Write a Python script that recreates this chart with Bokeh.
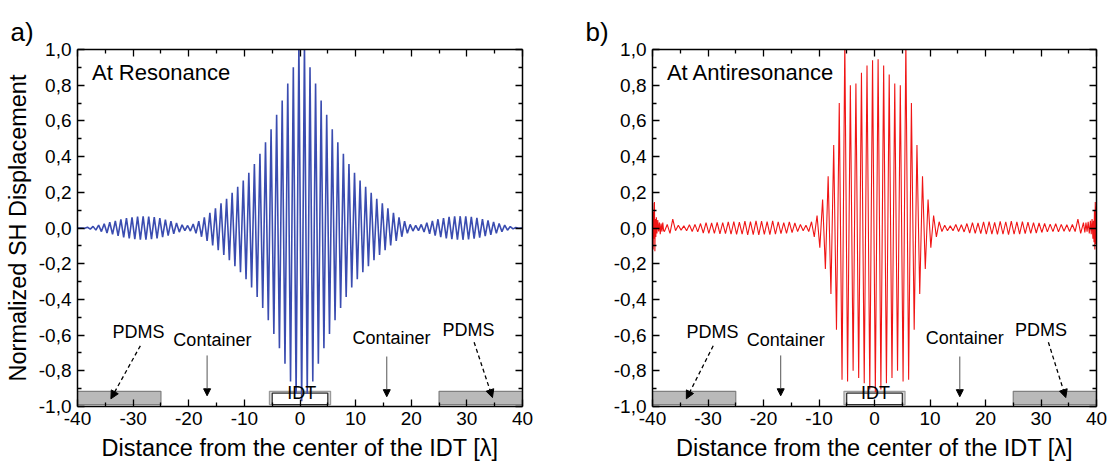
import numpy as np
from bokeh.plotting import figure
from bokeh.layouts import row
from bokeh.models import (ColumnDataSource, FixedTicker, LinearAxis, Range1d,
                          Arrow, NormalHead, Label)
from bokeh.core.properties import value
from bokeh.embed import file_html
from bokeh.resources import INLINE

# ---------------- tick definitions ----------------
x_ticks = [-40, -30, -20, -10, 0, 10, 20, 30, 40]
x_tick_labels = ["-40", "-30", "-20", "-10", "0", "10", "20", "30", "40"]
x_minor = [-35, -25, -15, -5, 5, 15, 25, 35]
y_ticks = [-1.0, -0.8, -0.6, -0.4, -0.2, 0.0, 0.2, 0.4, 0.6, 0.8, 1.0]
y_tick_labels = ["-1,0", "-0,8", "-0,6", "-0,4", "-0,2", "0,0",
                 "0,2", "0,4", "0,6", "0,8", "1,0"]
y_minor = [-0.9, -0.7, -0.5, -0.3, -0.1, 0.1, 0.3, 0.5, 0.7, 0.9]

# ---------------- panel a: at resonance ----------------
# positive crests at x = -39.2 ... 39.8 (one per wavelength)
res_peak_x = np.arange(-39, 41) - 0.2
res_peak = [0.0, 0.004, 0.009, 0.016, 0.024, 0.032, 0.040, 0.048, 0.055, 0.060,
            0.064, 0.065, 0.064, 0.061, 0.055, 0.047, 0.038, 0.028, 0.018, 0.014,
            0.022, 0.038, 0.060, 0.085, 0.111, 0.139, 0.163, 0.197, 0.231, 0.266,
            0.309, 0.358, 0.416, 0.48, 0.553, 0.634, 0.714, 0.81, 0.90, 1.03,
            1.03, 0.90, 0.81, 0.714, 0.634, 0.553, 0.48, 0.416, 0.358, 0.309,
            0.266, 0.231, 0.197, 0.163, 0.139, 0.111, 0.085, 0.060, 0.038, 0.020,
            0.015, 0.02, 0.03, 0.04, 0.049, 0.056, 0.062, 0.065, 0.066, 0.065,
            0.062, 0.057, 0.05, 0.042, 0.034, 0.025, 0.016, 0.008, 0.003, 0.0]
# negative troughs (magnitudes) at x = -39.7 ... 39.3
res_trough_x = np.arange(-40, 40) + 0.3
res_trough = [0.0, 0.002, 0.006, 0.012, 0.020, 0.028, 0.036, 0.044, 0.052, 0.058,
              0.062, 0.065, 0.065, 0.063, 0.058, 0.051, 0.043, 0.033, 0.023, 0.015,
              0.017, 0.03, 0.049, 0.072, 0.098, 0.125, 0.151, 0.18, 0.214, 0.248,
              0.287, 0.333, 0.387, 0.448, 0.517, 0.594, 0.674, 0.76, 0.86, 0.93,
              0.97,
              0.93, 0.86, 0.76, 0.674, 0.594, 0.517, 0.448, 0.387, 0.333, 0.287,
              0.248, 0.214, 0.18, 0.151, 0.125, 0.098, 0.072, 0.049, 0.03, 0.017,
              0.015, 0.022, 0.032, 0.043, 0.051, 0.058, 0.063, 0.065, 0.066, 0.064,
              0.06, 0.054, 0.046, 0.038, 0.03, 0.021, 0.012, 0.005, 0.001]

# ---------------- panel b: at antiresonance ----------------
anti_peak_x = np.arange(-38, 38) + 0.65
anti_peak = [0.02, 0.05, 0.015, 0.012, 0.018, 0.02, 0.025, 0.03, 0.028, 0.032,
             0.03, 0.034, 0.036, 0.033, 0.038, 0.036, 0.04, 0.038, 0.036, 0.04,
             0.035, 0.03, 0.034, 0.028, 0.02, 0.015, 0.035, 0.07, 0.16, 0.29,
             0.465, 0.70, 1.05, 0.80, 0.81, 0.87, 0.91, 0.94,
             0.945, 0.91, 0.86, 0.81, 0.80, 1.05, 0.70, 0.465, 0.29, 0.16,
             0.07, 0.035, 0.015, 0.012, 0.02, 0.018, 0.025, 0.03, 0.028, 0.034,
             0.036, 0.032, 0.037, 0.035, 0.038, 0.034, 0.036, 0.033, 0.03, 0.028,
             0.025, 0.022, 0.024, 0.02, 0.018, 0.02, 0.05, 0.03]
anti_trough_x = np.arange(-38, 38) + 0.15
anti_trough = [0.02, 0.03, 0.015, 0.012, 0.015, 0.02, 0.022, 0.028, 0.03, 0.03,
               0.033, 0.032, 0.035, 0.036, 0.035, 0.038, 0.037, 0.038, 0.036, 0.037,
               0.035, 0.032, 0.03, 0.026, 0.02, 0.015, 0.02, 0.05, 0.11, 0.23,
               0.37, 0.57, 0.85, 0.86, 0.80, 0.84, 0.87, 0.905,
               0.92, 0.905, 0.87, 0.84, 0.80, 0.86, 0.85, 0.57, 0.37, 0.23,
               0.11, 0.05, 0.02, 0.015, 0.015, 0.02, 0.022, 0.028, 0.03, 0.032,
               0.035, 0.034, 0.036, 0.035, 0.037, 0.035, 0.034, 0.032, 0.03, 0.028,
               0.025, 0.022, 0.02, 0.022, 0.018, 0.02, 0.02, 0.03]
# noisy reflections at both ends
edge_l_x = [-40.0, -39.95, -39.88, -39.8, -39.72, -39.65, -39.57, -39.5, -39.4,
            -39.3, -39.2, -39.05, -38.9, -38.75, -38.6, -38.45, -38.3, -38.15, -38.0]
edge_l_y = [0.02, 0.14, -0.12, 0.09, -0.06, 0.145, -0.13, 0.05, -0.05,
            0.06, -0.03, 0.045, -0.02, 0.03, -0.035, 0.025, -0.02, 0.03, -0.015]
edge_r_x = [37.9, 38.1, 38.3, 38.5, 38.7, 38.9, 39.05, 39.2, 39.35, 39.45, 39.55,
            39.63, 39.7, 39.78, 39.85, 39.92, 40.0]
edge_r_y = [-0.025, 0.03, -0.02, 0.035, -0.03, 0.04, -0.035, 0.05, -0.06, 0.04,
            -0.08, 0.1, -0.12, 0.145, -0.09, 0.12, 0.02]

# ---------------- annotations ----------------
ann_text = ["PDMS", "Container", "Container", "PDMS", "IDT"]
ann_a_x = [-29.05, -15.75, 16.46, 30.3, 0.3]
ann_b_x = [-29.2, -16.0, 16.25, 30.0, 0.2]
ann_y = [-0.58, -0.625, -0.615, -0.57, -0.925]

pdms_left = [-40, 25]
pdms_right = [-25, 40]
strip_bottom = -0.99
strip_top = -0.915

arrows_a = dict(dashed=[(-28.7, -0.66, -34.0, -0.957), (31.3, -0.64, 34.6, -0.95)],
                solid=[(-16.7, -0.714, -16.7, -0.94), (15.6, -0.72, 15.6, -0.945)])
arrows_b = dict(dashed=[(-29.06, -0.66, -33.9, -0.957), (31.33, -0.64, 34.46, -0.95)],
                solid=[(-16.9, -0.714, -16.9, -0.94), (15.37, -0.72, 15.37, -0.945)])

FONT = "Liberation Sans"
X_TITLE = "Distance from the center of the IDT [\u03bb]"
Y_TITLE = "Normalized SH Displacement"


def merged(xs_list, ys_list):
    x = np.concatenate([np.asarray(v, dtype=float) for v in xs_list])
    y = np.concatenate([np.asarray(v, dtype=float) for v in ys_list])
    o = np.argsort(x, kind="stable")
    return x[o], y[o]


def style_axis(ax, labels=True):
    ax.axis_line_width = 1.5
    ax.axis_line_color = "black"
    ax.major_tick_in = 7
    ax.major_tick_out = 0
    ax.minor_tick_in = 4
    ax.minor_tick_out = 0
    ax.major_tick_line_width = 1.3
    ax.minor_tick_line_width = 1.3
    ax.major_tick_line_color = "black"
    ax.minor_tick_line_color = "black"
    if labels:
        ax.major_label_text_font = FONT
        ax.major_label_text_font_size = "19px"
        ax.major_label_text_color = "black"
    else:
        ax.major_label_text_font_size = "1px"
        ax.major_label_text_color = None
        ax.major_label_standoff = 0


def make_panel(width, left, right, xs, ys, color, lw, title, ann_x, arrows, tag,
               tag_offset, with_ylabel):
    p = figure(width=width, height=466, x_range=Range1d(-40, 40), y_range=Range1d(-1, 1),
               output_backend="svg", toolbar_location=None,
               min_border_left=left, min_border_right=right,
               min_border_top=49, min_border_bottom=60, title=tag)
    p.grid.visible = False
    p.outline_line_color = None
    p.background_fill_color = "white"
    p.border_fill_color = "white"

    p.title.text_font = FONT
    p.title.text_font_size = "26px"
    p.title.text_font_style = "normal"
    p.title.text_color = "black"
    p.title.align = "left"
    p.title.vertical_align = "middle"
    p.title.offset = tag_offset
    p.title.standoff = 4

    p.xaxis.ticker = FixedTicker(ticks=x_ticks, minor_ticks=x_minor)
    p.yaxis.ticker = FixedTicker(ticks=y_ticks, minor_ticks=y_minor)
    p.xaxis.major_label_overrides = dict(zip(x_ticks, x_tick_labels))
    p.yaxis.major_label_overrides = dict(zip(y_ticks, y_tick_labels))
    style_axis(p.xaxis[0])
    style_axis(p.yaxis[0])
    p.xaxis.major_label_standoff = 5
    p.yaxis.major_label_standoff = 6

    p.xaxis.axis_label = X_TITLE
    p.xaxis.axis_label_text_font = FONT
    p.xaxis.axis_label_text_font_size = "23.5px"
    p.xaxis.axis_label_text_font_style = "normal"
    p.xaxis.axis_label_text_color = "black"
    p.xaxis.axis_label_standoff = 7
    if with_ylabel:
        p.yaxis.axis_label = Y_TITLE
        p.yaxis.axis_label_text_font = FONT
        p.yaxis.axis_label_text_font_size = "23.5px"
        p.yaxis.axis_label_text_font_style = "normal"
        p.yaxis.axis_label_text_color = "black"
        p.yaxis.axis_label_standoff = 5

    top = LinearAxis(ticker=FixedTicker(ticks=x_ticks, minor_ticks=x_minor))
    style_axis(top, labels=False)
    p.add_layout(top, "above")
    rgt = LinearAxis(ticker=FixedTicker(ticks=y_ticks, minor_ticks=y_minor))
    style_axis(rgt, labels=False)
    p.add_layout(rgt, "right")

    # PDMS strips and IDT block
    p.quad(left=pdms_left, right=pdms_right, bottom=strip_bottom, top=strip_top,
           fill_color="#b9b9b9", line_color="#7f7f7f", line_width=1.2)
    p.quad(left=[-5.5], right=[5.5], bottom=[strip_bottom], top=[strip_top],
           fill_color="#d4d4d4", line_color="#9a9a9a", line_width=1.2)
    p.quad(left=[-5.0], right=[5.0], bottom=[strip_bottom], top=[-0.925],
           fill_color="white", line_color="black", line_width=1.0)

    src = ColumnDataSource(dict(x=xs, y=ys))
    p.line("x", "y", source=src, line_color=color, line_width=lw)

    tsrc = ColumnDataSource(dict(x=ann_x, y=ann_y, t=ann_text))
    p.text("x", "y", text="t", source=tsrc, text_font=value(FONT),
           text_font_size=value("18px"), text_align="center",
           text_baseline="alphabetic", text_color="black")

    for (x0, y0, x1, y1) in arrows["dashed"]:
        p.add_layout(Arrow(end=NormalHead(size=8, fill_color="black", line_color="black"),
                           x_start=x0, y_start=y0, x_end=x1, y_end=y1,
                           line_color="black", line_width=1.3, line_dash="4 3"))
    for (x0, y0, x1, y1) in arrows["solid"]:
        p.add_layout(Arrow(end=NormalHead(size=7, fill_color="black", line_color="black"),
                           x_start=x0, y_start=y0, x_end=x1, y_end=y1,
                           line_color="#555555", line_width=1.0))

    p.add_layout(Label(x=-37.4, y=0.87, text=title, text_font=FONT,
                       text_font_size="22px", text_baseline="alphabetic",
                       text_color="black"))
    return p


xa, ya = merged([[-40.0], res_trough_x, res_peak_x, [40.0]],
                [[0.0], -np.array(res_trough), res_peak, [0.0]])
xb, yb = merged([edge_l_x, anti_trough_x, anti_peak_x, edge_r_x],
                [edge_l_y, -np.array(anti_trough), anti_peak, edge_r_y])

pa = make_panel(560, 77, 38, xa, ya, "#3a4cb0", 1.6, "At Resonance", ann_a_x, arrows_a,
                "a)", -67, True)
pb = make_panel(547, 92, 11, xb, yb, "#f01515", 1.1, "At Antiresonance", ann_b_x, arrows_b,
                "b)", -67, False)

layout = row(pa, pb, spacing=0)
open("out.html", "w").write(file_html(layout, INLINE))
